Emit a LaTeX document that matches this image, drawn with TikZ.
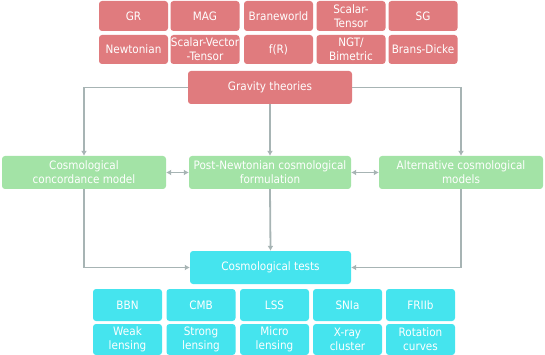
\documentclass[tikz,border=0pt]{standalone}
\usepackage{fontspec}
\setmainfont{DejaVu Sans}[FakeStretch=0.9]
\usetikzlibrary{arrows.meta}
\definecolor{redbox}{HTML}{E07B7E}
\definecolor{greenbox}{HTML}{A3E3A6}
\definecolor{cyanbox}{HTML}{45E4EE}
\definecolor{linegray}{HTML}{A7B4B4}
\tikzset{
  box/.style={rounded corners=3pt, inner sep=0pt, align=center, text=white,
    font=\fontsize{11.6}{13.8}\selectfont},
  redb/.style={box, fill=redbox},
  greenb/.style={box, fill=greenbox},
  cyanb/.style={box, fill=cyanbox},
  conn/.style={draw=linegray, line width=1.8pt, -{Latex[length=5pt,width=6pt]}},
  dconn/.style={draw=linegray, line width=1.8pt, {Latex[length=5pt,width=6pt]}-{Latex[length=5pt,width=6pt]}}
}
\begin{document}
\begin{tikzpicture}[x=1pt,y=-1pt]
\useasboundingbox (0,0) rectangle (545,355);
% top rows
\node[redb, minimum width=69pt, minimum height=30pt] (gr) at (133.5,16) {GR};
\node[redb, minimum width=69pt, minimum height=30pt] (mag) at (205,16) {MAG};
\node[redb, minimum width=69pt, minimum height=30pt] (brane) at (278.5,16) {Braneworld};
\node[redb, minimum width=69pt, minimum height=30pt] (st) at (351,16) {Scalar-\\Tensor};
\node[redb, minimum width=69pt, minimum height=30pt] (sg) at (423,16) {SG};
\node[redb, minimum width=69pt, minimum height=29pt] (newt) at (133.5,49.5) {Newtonian};
\node[redb, minimum width=69pt, minimum height=29pt] (svt) at (205,49.5) {Scalar-Vector\\-Tensor};
\node[redb, minimum width=69pt, minimum height=29pt] (fr) at (278.5,49.5) {f(R)};
\node[redb, minimum width=69pt, minimum height=29pt] (ngt) at (351,49.5) {NGT/\\Bimetric};
\node[redb, minimum width=69pt, minimum height=29pt] (bd) at (423,49.5) {Brans-Dicke};
% gravity
\node[redb, minimum width=164pt, minimum height=33pt] (grav) at (270,87.5) {Gravity theories};
% green
\node[greenb, minimum width=164pt, minimum height=33pt] (cc) at (84,172.5) {Cosmological\\concordance model};
\node[greenb, minimum width=162pt, minimum height=33pt] (pn) at (270,172.5) {Post-Newtonian cosmological\\formulation};
\node[greenb, minimum width=164pt, minimum height=33pt] (alt) at (461,172.5) {Alternative cosmological\\models};
% tests
\node[cyanb, minimum width=161pt, minimum height=33pt] (tests) at (270.5,267.5) {Cosmological tests};
\node[cyanb, minimum width=69pt, minimum height=32pt] (bbn) at (127.5,305) {BBN};
\node[cyanb, minimum width=69pt, minimum height=32pt] (cmb) at (201,305) {CMB};
\node[cyanb, minimum width=69pt, minimum height=32pt] (lss) at (274.5,305) {LSS};
\node[cyanb, minimum width=69pt, minimum height=32pt] (snia) at (347.5,305) {SNIa};
\node[cyanb, minimum width=69pt, minimum height=32pt] (frii) at (420.5,305) {FRIIb};
\node[cyanb, minimum width=69pt, minimum height=31pt] (weak) at (127.5,339.5) {Weak\\lensing};
\node[cyanb, minimum width=69pt, minimum height=31pt] (strong) at (201,339.5) {Strong\\lensing};
\node[cyanb, minimum width=69pt, minimum height=31pt] (micro) at (274.5,339.5) {Micro\\lensing};
\node[cyanb, minimum width=69pt, minimum height=31pt] (xray) at (347.5,339.5) {X-ray\\cluster};
\node[cyanb, minimum width=69pt, minimum height=31pt] (rot) at (420.5,339.5) {Rotation\\curves};
% connectors
\draw[conn] (grav.west) -| (cc.north);
\draw[conn] (grav.east) -| (alt.north);
\draw[conn] (grav.south) -- (pn.north);
\draw[dconn] (cc.east) -- (pn.west);
\draw[dconn] (pn.east) -- (alt.west);
\draw[conn] (pn.south) -- (tests.north);
\draw[conn] (cc.south) |- (tests.west);
\draw[conn] (alt.south) |- (tests.east);
\end{tikzpicture}
\end{document}
